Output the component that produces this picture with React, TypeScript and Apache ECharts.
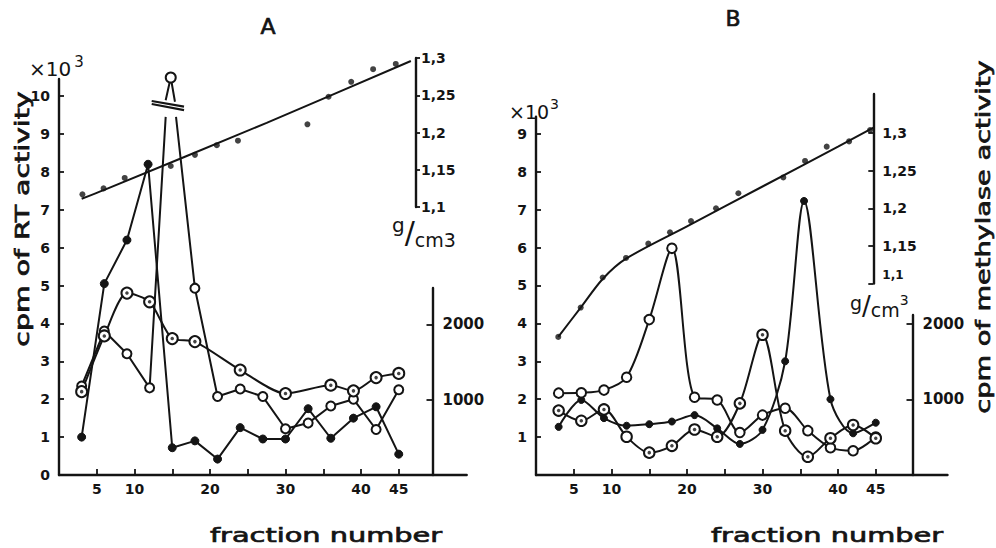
import React, { useEffect, useRef } from "react";
import * as echarts from "echarts";

const INK = "#141414";
const FONT = "'DejaVu Sans', sans-serif";

// ---- tick values ----
const xTickValues = [5, 10, 15, 20, 25, 30, 35, 40, 45];
const xLabelValues = [5, 10, 20, 30, 40, 45];
const aLeftLabels = [0, 1, 2, 3, 4, 5, 6, 7, 8, 9, 10];
const bLeftLabels = [1, 2, 3, 4, 5, 6, 7, 8, 9];
const densityLabels = [1.1, 1.15, 1.2, 1.25, 1.3];
const rightLabels = [1000, 2000];

// ---- panel A data: [fraction, value] ----
const aDensityDots = [
  [3.1, 1.117], [5.9, 1.125], [8.7, 1.139], [14.8, 1.155], [18.0, 1.17], [20.9, 1.183],
  [23.7, 1.189], [32.9, 1.211], [35.7, 1.248], [38.7, 1.268], [41.6, 1.285], [44.6, 1.292],
];
const aDensityFit = [[3.0, 1.111], [6, 1.123], [27.5, 1.213], [46.6, 1.296]];
const aFilled = [
  [3, 1.0], [6, 5.05], [9, 6.2], [11.8, 8.2], [15, 0.72], [18, 0.9], [21, 0.42], [24, 1.25],
  [27, 0.95], [30, 0.95], [33, 1.75], [36, 0.97], [39, 1.5], [42, 1.8], [45, 0.55],
];
const aOpen = [
  [3, 2.35], [6, 3.8], [9, 3.2], [12, 2.3], [14.8, 10.49], [18, 4.93], [21, 2.07], [24, 2.27],
  [27, 2.07], [30, 1.22], [33, 1.37], [36, 1.82], [39, 2.0], [42, 1.2], [45, 2.25],
];
// where the peak line meets the axis break
const aBreakLowLeft = [14.13, 9.45];
const aBreakHighLeft = [14.13, 9.89];
const aBreakHighRight = [15.36, 9.85];
const aBreakLowRight = [15.5, 9.45];
const aBreakMark1 = [[12.28, 9.87], [16.56, 9.72]];
const aBreakMark2 = [[12.28, 9.79], [16.56, 9.63]];
const aRinged = [
  [3, 2.2], [6, 3.67], [9, 4.8], [12, 4.57], [15, 3.6], [18, 3.52], [24, 2.77], [30, 2.15],
  [36, 2.37], [39, 2.22], [42, 2.57], [45, 2.68],
];

// ---- panel B data ----
const bDensityDots = [
  [2.95, 1.029], [5.92, 1.068], [8.83, 1.108], [11.92, 1.134], [14.87, 1.153], [17.75, 1.168],
  [20.53, 1.183], [23.84, 1.2], [26.8, 1.22], [32.75, 1.241], [35.63, 1.263], [38.5, 1.282],
  [41.46, 1.289], [44.24, 1.304],
];
const bDensityFit = [
  [2.95, 1.029], [5.92, 1.068], [8.83, 1.106], [11.92, 1.133], [20, 1.176], [30, 1.229],
  [40, 1.282], [49.1, 1.331],
];
const bFilled = [
  [3, 1.27], [6, 1.98], [9, 1.5], [12, 1.3], [15, 1.34], [18, 1.41], [21, 1.58], [24, 1.23],
  [27, 0.82], [30, 1.19], [33, 3.0], [35.5, 7.23], [39, 2.0], [42, 1.1], [45, 1.38],
];
const bOpen = [
  [3, 2.16], [6, 2.17], [9, 2.24], [12, 2.58], [15, 4.1], [18, 5.98], [21, 2.05], [24, 1.98],
  [27, 1.12], [30, 1.58], [33, 1.76], [36, 1.17], [39, 0.72], [42, 0.64], [45, 1.0],
];
const bRinged = [
  [3, 1.7], [6, 1.43], [9, 1.73], [12, 1.01], [15, 0.59], [18, 0.77], [21, 1.2], [24, 1.01],
  [27, 1.89], [30, 3.7], [33, 1.17], [36, 0.48], [39, 0.97], [42, 1.32], [45, 0.97],
];

const labelFont = (size: number) => ({
  color: INK,
  fontFamily: FONT,
  fontWeight: "bold" as const,
  fontSize: size,
});

const commaFmt = (v: number) =>
  v <= 1.3001 ? v.toFixed(2).replace(/0$/, "").replace(".", ",") : "";

const AXW = 2.4;
const LW = 2.0;

function xAxisMain(grid: number, max: number) {
  return {
    gridIndex: grid,
    type: "value",
    min: 0,
    max,
    interval: 5,
    axisLine: { show: true, onZero: false, lineStyle: { color: INK, width: AXW } },
    axisTick: { show: true, inside: true, length: 6, customValues: xTickValues, lineStyle: { color: INK, width: 1.8 } },
    axisLabel: {
      show: true,
      margin: 7,
      customValues: xLabelValues,
      ...labelFont(14),
      formatter: (v: number) => (xLabelValues.includes(v) ? String(v) : ""),
    },
    splitLine: { show: false },
  };
}
function xAxisHidden(grid: number, max: number) {
  return { gridIndex: grid, type: "value", min: 0, max, show: false, splitLine: { show: false } };
}

function lineSeries(x: number, y: number, data: any[], extra: any = {}) {
  return {
    type: "line",
    xAxisIndex: x,
    yAxisIndex: y,
    data,
    clip: false,
    silent: true,
    connectNulls: false,
    lineStyle: { color: INK, width: LW },
    itemStyle: { color: INK, borderColor: INK },
    emphasis: { disabled: true },
    ...extra,
  };
}
function dotSeries(x: number, y: number, data: any[], size: number) {
  return {
    type: "scatter",
    xAxisIndex: x,
    yAxisIndex: y,
    data,
    clip: false,
    silent: true,
    symbol: "circle",
    symbolSize: size,
    itemStyle: { color: INK },
    emphasis: { disabled: true },
    z: 5,
  };
}

const bigText = (text: string, size: number) => ({
  text,
  fontFamily: FONT,
  fontSize: size,
  fill: INK,
  stroke: INK,
  lineWidth: 0.7,
  align: "center",
  verticalAlign: "middle",
  textAlign: "center",
  textVerticalAlign: "middle",
});

export default function App() {
  const ref = useRef<HTMLDivElement>(null);

  useEffect(() => {
    if (!ref.current) return;
    const chart = echarts.init(ref.current, null, { renderer: "svg", width: 996, height: 548 });

    const aOpenData: any[] = [
      ...aOpen.slice(0, 4),
      { value: aBreakLowLeft, symbol: "none" },
      [14.13, "-"],
      { value: aBreakHighLeft, symbol: "none" },
      { value: aOpen[4], symbolSize: 10 },
      { value: aBreakHighRight, symbol: "none" },
      [15.4, "-"],
      { value: aBreakLowRight, symbol: "none" },
      ...aOpen.slice(5),
    ];

    const option: any = {
      animation: false,
      backgroundColor: "#ffffff",
      grid: [
        { left: 59, top: 79, width: 407.7, height: 396 },
        { left: 59, top: 58, width: 357, height: 149 },
        { left: 59, top: 288, width: 373.5, height: 187 },
        { left: 536, top: 116.8, width: 411.5, height: 358.2 },
        { left: 536, top: 94, width: 337.3, height: 189.5 },
        { left: 536, top: 315, width: 376.5, height: 160 },
      ],
      xAxis: [
        xAxisMain(0, 54),
        xAxisHidden(1, 47.28),
        xAxisHidden(2, 49.47),
        xAxisMain(3, 54.5),
        xAxisHidden(4, 44.67),
        xAxisHidden(5, 49.87),
      ],
      yAxis: [
        {
          gridIndex: 0, type: "value", min: 0, max: 10.45, interval: 1, position: "left",
          axisLine: { show: true, onZero: false, lineStyle: { color: INK, width: AXW } },
          axisTick: { show: true, inside: true, length: 5, customValues: aLeftLabels, lineStyle: { color: INK, width: 1.8 } },
          axisLabel: { show: true, margin: 9, customValues: aLeftLabels, ...labelFont(14),
            formatter: (v: number) => (Number.isInteger(v) ? String(v) : "") },
          splitLine: { show: false },
        },
        {
          gridIndex: 1, type: "value", min: 1.1, max: 1.3, interval: 0.05, position: "right",
          axisLine: { show: true, onZero: false, lineStyle: { color: INK, width: AXW } },
          axisTick: { show: true, inside: false, length: 4, customValues: densityLabels, lineStyle: { color: INK, width: 1.8 } },
          axisLabel: { show: true, margin: 5, customValues: densityLabels, ...labelFont(14), formatter: commaFmt },
          splitLine: { show: false },
        },
        {
          gridIndex: 2, type: "value", min: 0, max: 2482, interval: 1000, position: "right",
          axisLine: { show: true, onZero: false, lineStyle: { color: INK, width: AXW } },
          axisTick: { show: true, inside: true, length: 6, customValues: rightLabels, lineStyle: { color: INK, width: 1.8 } },
          axisLabel: { show: true, margin: 10, customValues: rightLabels, ...labelFont(15),
            formatter: (v: number) => (rightLabels.includes(v) ? String(v) : "") },
          splitLine: { show: false },
        },
        {
          gridIndex: 3, type: "value", min: 0, max: 9.45, interval: 1, position: "left",
          axisLine: { show: true, onZero: false, lineStyle: { color: INK, width: AXW } },
          axisTick: { show: true, inside: true, length: 5, customValues: bLeftLabels, lineStyle: { color: INK, width: 1.8 } },
          axisLabel: { show: true, margin: 9, customValues: bLeftLabels, ...labelFont(14),
            formatter: (v: number) => (Number.isInteger(v) && v >= 1 ? String(v) : "") },
          splitLine: { show: false },
        },
        {
          gridIndex: 4, type: "value", min: 1.1, max: 1.352, interval: 0.05, position: "right",
          axisLine: { show: true, onZero: false, lineStyle: { color: INK, width: AXW } },
          axisTick: { show: true, inside: true, length: 5, customValues: densityLabels, lineStyle: { color: INK, width: 1.8 } },
          axisLabel: {
            show: true, margin: 9, customValues: densityLabels, ...labelFont(14),
            formatter: (v: number) => (Math.abs(v - 1.1) < 1e-6 ? "{u|1,1}" : commaFmt(v)),
            rich: { u: { ...labelFont(12), padding: [0, 0, 18, 0] } },
          },
          splitLine: { show: false },
        },
        {
          gridIndex: 5, type: "value", min: 0, max: 2114, interval: 1000, position: "right",
          axisLine: { show: true, onZero: false, lineStyle: { color: INK, width: AXW } },
          axisTick: { show: true, inside: true, length: 6, customValues: rightLabels, lineStyle: { color: INK, width: 1.8 } },
          axisLabel: { show: true, margin: 10, customValues: rightLabels, ...labelFont(15),
            formatter: (v: number) => (rightLabels.includes(v) ? String(v) : "") },
          splitLine: { show: false },
        },
      ],
      series: [
        // Panel A
        lineSeries(1, 1, aDensityFit, { symbol: "none", smooth: 0.3 }),
        dotSeries(1, 1, aDensityDots, 6),
        lineSeries(0, 0, aFilled, { symbol: "circle", symbolSize: 8 }),
        lineSeries(0, 0, aOpenData, {
          symbol: "emptyCircle", symbolSize: 9,
          itemStyle: { color: INK, borderColor: INK, borderWidth: 1.9 },
        }),
        lineSeries(0, 0, aRinged, {
          symbol: "emptyCircle", symbolSize: 11, smooth: 0.25,
          itemStyle: { color: INK, borderColor: INK, borderWidth: 1.9 },
        }),
        dotSeries(0, 0, aRinged, 3.5),
        lineSeries(0, 0, aBreakMark1, { symbol: "none", lineStyle: { color: INK, width: 2.2 } }),
        lineSeries(0, 0, aBreakMark2, { symbol: "none", lineStyle: { color: INK, width: 2.2 } }),
        // Panel B
        lineSeries(4, 4, bDensityFit, { symbol: "none", smooth: 0.3 }),
        dotSeries(4, 4, bDensityDots, 6),
        lineSeries(3, 3, bFilled, { symbol: "circle", symbolSize: 7, smooth: 0.3 }),
        lineSeries(3, 3, bOpen, {
          symbol: "emptyCircle", symbolSize: 9.5, smooth: 0.3,
          itemStyle: { color: INK, borderColor: INK, borderWidth: 1.9 },
        }),
        lineSeries(3, 3, bRinged, {
          symbol: "emptyCircle", symbolSize: 10.5, smooth: 0.3,
          itemStyle: { color: INK, borderColor: INK, borderWidth: 2.6 },
        }),
        dotSeries(3, 3, bRinged.filter((_, i) => i !== 3), 3.5),
      ],
      graphic: [
        { type: "text", x: 268, y: 26, style: bigText("A", 22) },
        { type: "text", x: 733, y: 18, style: bigText("B", 22) },
        {
          type: "text", x: 29, y: 69,
          style: {
            text: "{a|×10}{b|3}", fill: INK, fontFamily: FONT, align: "left", verticalAlign: "middle", textAlign: "left", textVerticalAlign: "middle",
            rich: {
              a: { fontSize: 20, lineHeight: 30, fontFamily: FONT, fill: INK },
              b: { fontSize: 15, lineHeight: 14, verticalAlign: "top", fontFamily: FONT, fill: INK, padding: [0, 0, 0, 3] },
            },
          },
        },
        {
          type: "text", x: 509, y: 112,
          style: {
            text: "{a|×10}{b|3}", fill: INK, fontFamily: FONT, align: "left", verticalAlign: "middle", textAlign: "left", textVerticalAlign: "middle",
            rich: {
              a: { fontSize: 19, lineHeight: 30, fontFamily: FONT, fill: INK },
              b: { fontSize: 14, lineHeight: 13, verticalAlign: "top", fontFamily: FONT, fill: INK, padding: [0, 0, 0, 1] },
            },
          },
        },
        {
          type: "text", x: 392, y: 232,
          style: {
            text: "{g|g}{s|/}{c|cm3}", fill: INK, fontFamily: FONT, align: "left", verticalAlign: "middle", textAlign: "left", textVerticalAlign: "middle",
            rich: {
              g: { fontSize: 20, lineHeight: 18, verticalAlign: "top", fontFamily: FONT, fill: INK },
              s: { fontSize: 30, lineHeight: 34, fontFamily: FONT, fill: INK },
              c: { fontSize: 19, lineHeight: 18, verticalAlign: "bottom", fontFamily: FONT, fill: INK },
            },
          },
        },
        {
          type: "text", x: 850, y: 306,
          style: {
            text: "{g|g}{s|/}{c|cm}{e|3}", fill: INK, fontFamily: FONT, align: "left", verticalAlign: "middle", textAlign: "left", textVerticalAlign: "middle",
            rich: {
              g: { fontSize: 19, lineHeight: 18, verticalAlign: "top", fontFamily: FONT, fill: INK },
              s: { fontSize: 26, lineHeight: 26, fontFamily: FONT, fill: INK },
              c: { fontSize: 19, lineHeight: 18, verticalAlign: "bottom", fontFamily: FONT, fill: INK },
              e: { fontSize: 14, lineHeight: 13, verticalAlign: "top", fontFamily: FONT, fill: INK },
            },
          },
        },
        { type: "text", x: 22, y: 219, rotation: Math.PI / 2, scaleX: 1.42, style: bigText("cpm of RT activity", 20) },
        { type: "text", x: 983, y: 237, rotation: Math.PI / 2, scaleX: 1.36, style: bigText("cpm of methylase activity", 20) },
        { type: "text", x: 326, y: 535, scaleX: 1.44, style: bigText("fraction number", 20) },
        { type: "text", x: 827, y: 535, scaleX: 1.44, style: bigText("fraction number", 20) },
      ],
    };

    chart.setOption(option);
    return () => chart.dispose();
  }, []);

  return (
    <div
      ref={ref}
      style={{ position: "fixed", left: 0, top: 0, width: 996, height: 548, background: "#fff" }}
    />
  );
}
